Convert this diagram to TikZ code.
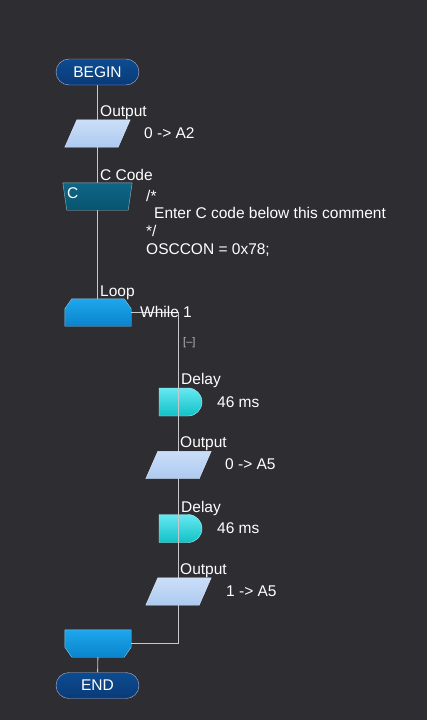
\documentclass[tikz,border=0pt]{standalone}
\usepackage{fontspec}
\setmainfont{Liberation Sans}
\usepackage{tikz}
\usetikzlibrary{shapes.misc}
\definecolor{fcbg}{HTML}{2D2D32}
\definecolor{fcwire}{HTML}{C8C8CC}
\definecolor{fcnavy}{HTML}{0C4C90}
\definecolor{fcnavyd}{HTML}{0A3A78}
\definecolor{fcteal}{HTML}{0E6686}
\definecolor{fcteald}{HTML}{08546F}
\definecolor{fcblue}{HTML}{1EA6EC}
\definecolor{fcblued}{HTML}{0A84CC}
\definecolor{fccyan}{HTML}{66E8F2}
\definecolor{fccyand}{HTML}{10C2C6}
\definecolor{fcpale}{HTML}{CADEF8}
\definecolor{fcpaled}{HTML}{AECAF0}

\begin{document}
\begin{tikzpicture}[
  x=1pt, y=-1pt,
  font=\fontsize{15.5}{17.7}\selectfont,
  wire/.style={draw=fcwire, line width=0.9pt},
  terminal/.style={
    rounded rectangle,
    draw=fcwire!90!blue,
    top color=fcnavy, bottom color=fcnavyd,
    minimum width=83pt, minimum height=26pt,
    inner sep=0pt, text=white
  },
  slot/.style={inner sep=0pt, minimum width=#1, minimum height=27pt},
  slot/.default=65pt,
  iofill/.style={draw=fcpale!60!white, top color=fcpale, bottom color=fcpaled},
  codefill/.style={draw=fcteal!45!white, top color=fcteal, bottom color=fcteald},
  loopfill/.style={draw=fcblue!55!white, top color=fcblue, bottom color=fcblued},
  delaybox/.style={
    rounded rectangle, rounded rectangle left arc=none,
    draw=fccyan!55!white,
    top color=fccyan, bottom color=fccyand,
    minimum width=45pt, minimum height=28pt,
    inner sep=1pt
  },
  caption/.style={anchor=base west, inner sep=0pt, text=white}
]
\fill[fcbg] (0,0) rectangle (427,720);

% main column
\draw[wire] (97.5,72) -- (97.5,312.5);
\node[terminal] (begin) at (97.5,72) {BEGIN};
\node[slot] (outa) at (97.5,133.5) {};
\node[slot=69pt] (ccode) at (97.5,196.5) {};
\node[slot=66pt] (loop) at (98,312.5) {};
\node[slot=66pt] (loopend) at (98,643.5) {};
\node[terminal] (end) at (97.5,685.5) {END};
\draw[wire] (loopend) -- (end);

\draw[codefill] (ccode.north west) -- (ccode.north east)
  -- ([xshift=-4pt]ccode.south east) -- ([xshift=4pt]ccode.south west) -- cycle;
\draw[loopfill] (loop.south west) -- ([yshift=-10pt]loop.north west)
  -- ([xshift=7pt]loop.north west) -- ([xshift=-7pt]loop.north east)
  -- ([yshift=-10pt]loop.north east) -- (loop.south east) -- cycle;
\draw[loopfill] (loopend.north west) -- ([yshift=10pt]loopend.south west)
  -- ([xshift=7pt]loopend.south west) -- ([xshift=-7pt]loopend.south east)
  -- ([yshift=10pt]loopend.south east) -- (loopend.north east) -- cycle;

% loop body
\node[delaybox] (delaya) at (180.5,402) {};
\node[delaybox] (delayb) at (180.5,528.5) {};
\coordinate (turn) at (178,312.5);
\draw[wire] (loop.east) -- (turn) |- (loopend.east);
\node[slot] (outb) at (178.5,465) {};
\node[slot] (outc) at (178.5,591.5) {};

\foreach \io in {outa,outb,outc}
  \draw[iofill] (\io.south west) -- ([xshift=12pt]\io.north west)
    -- (\io.north east) -- ([xshift=-12pt]\io.south east) -- cycle;

% labels
\node[caption] (outalabel) at (100,116) {Output};
\node[caption] (outatext) at (144,138) {0 -> A2};
\node[caption] (ccodelabel) at (100,180) {C Code};
\node[caption] (ccodetag) at (67,198) {C};
\node[caption] (comment1) at (146,201) {/*};
\node[caption] (comment2) at (154,218) {Enter C code below this comment};
\node[caption] (comment3) at (146,236) {*/};
\node[caption] (comment4) at (146,254) {OSCCON = 0x78;};
\node[caption] (looplabel) at (100,296) {Loop};
\node[caption] (looptext) at (140,317) {While 1};
\node[caption, text=fcwire!80!gray, font=\fontsize{11}{13}\selectfont] (fold) at (183,345) {[--]};
\node[caption] (delayalabel) at (181,384) {Delay};
\node[caption] (delayatext) at (217,407) {46 ms};
\node[caption] (outblabel) at (180,447) {Output};
\node[caption] (outbtext) at (225,469) {0 -> A5};
\node[caption] (delayblabel) at (181,512) {Delay};
\node[caption] (delaybtext) at (217,533) {46 ms};
\node[caption] (outclabel) at (180,574) {Output};
\node[caption] (outctext) at (226,596) {1 -> A5};
\end{tikzpicture}
\end{document}
